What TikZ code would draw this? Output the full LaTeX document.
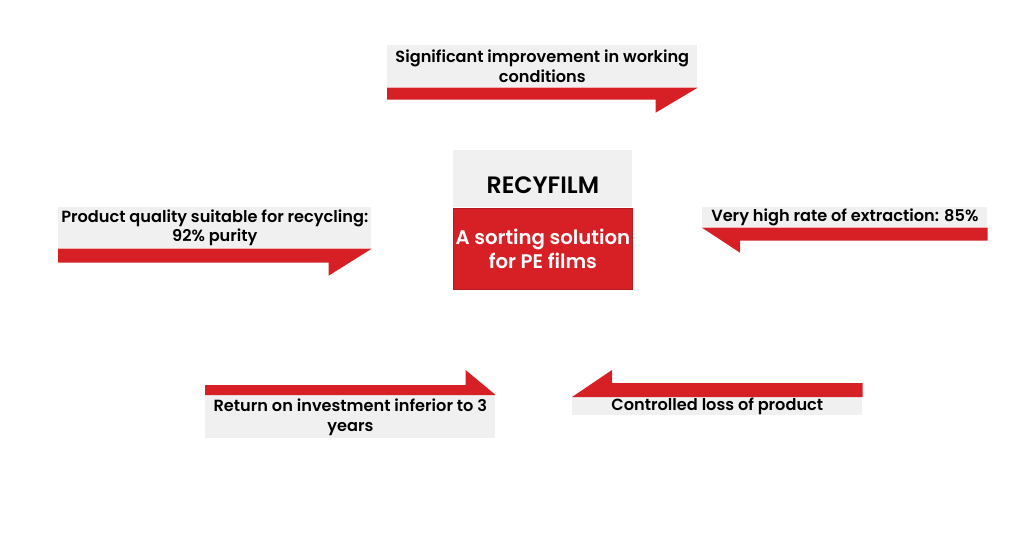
\documentclass[tikz,border=0pt]{standalone}
\usepackage{fontspec}
\setmainfont{Poppins}[BoldFont={Poppins SemiBold}]
\usetikzlibrary{positioning,calc}
\definecolor{rfred}{HTML}{D71F26}
\definecolor{rfgrey}{HTML}{F0F0F0}

\begin{document}
\begin{tikzpicture}[
      x=0.02cm, y=-0.02cm,
      font=\fontsize{9.2}{11.3}\selectfont\bfseries,
      lbl/.style={fill=rfgrey, align=center, inner sep=0pt, anchor=north west},
      bar/.style={fill=rfred}
    ]
    \useasboundingbox (0,0) rectangle (1030,539);

    % Centre block
    \node[lbl, minimum width=3.58cm, minimum height=1.14cm,
          label={[font=\fontsize{13.5}{16}\selectfont\bfseries, yshift=-0.13cm]center:RECYFILM}]
      at (453,150) (brand) {};
    \node[fill=rfred, draw=rfred!85!black, align=center, inner sep=0pt,
          minimum width=3.58cm, minimum height=1.62cm, text=white,
          font=\fontsize{11.2}{13.6}\selectfont\bfseries, below=0pt of brand]
      (sol) {A sorting solution\\for PE films};

    % Top
    \node[lbl, minimum width=6.2cm, minimum height=0.84cm] at (387,45)
      (work) {Significant improvement in working\\conditions};
    \fill[bar] (work.south west) -- (work.south east) -- ++(-42,25) -- ++(0,-13)
      -- ($(work.south west)+(0,12)$) -- cycle;

    % Left
    \node[lbl, minimum width=6.26cm, minimum height=0.82cm] at (58,207)
      (qual) {Product quality suitable for recycling:\\92\% purity};
    \fill[bar] (qual.south west) -- (qual.south east) -- ++(-43,27) -- ++(0,-13)
      -- ($(qual.south west)+(0,14)$) -- cycle;

    % Right
    \node[lbl, minimum width=5.7cm, minimum height=0.4cm] at (702,207)
      (ext) {Very high rate of extraction: 85\%};
    \fill[bar] (ext.south east) -- (ext.south west) -- ++(38,25) -- ++(0,-12)
      -- ($(ext.south east)+(0,13)$) -- cycle;

    % Bottom left
    \node[lbl, minimum width=5.8cm, minimum height=0.86cm] at (205,395)
      (roi) {Return on investment inferior to 3\\years};
    \fill[bar] (roi.north east) -- ++(-30,-25) -- ++(0,15)
      -- ($(roi.north west)+(0,-10)$) -- (roi.north west) -- cycle;

    % Bottom right
    \node[lbl, minimum width=5.8cm, minimum height=0.36cm] at (572,397)
      (loss) {Controlled loss of product};
    \fill[bar] (loss.north west) -- ++(40,-27) -- ++(0,13)
      -- ($(loss.north east)+(0,-14)$) -- (loss.north east) -- cycle;
  \end{tikzpicture}
\end{document}
